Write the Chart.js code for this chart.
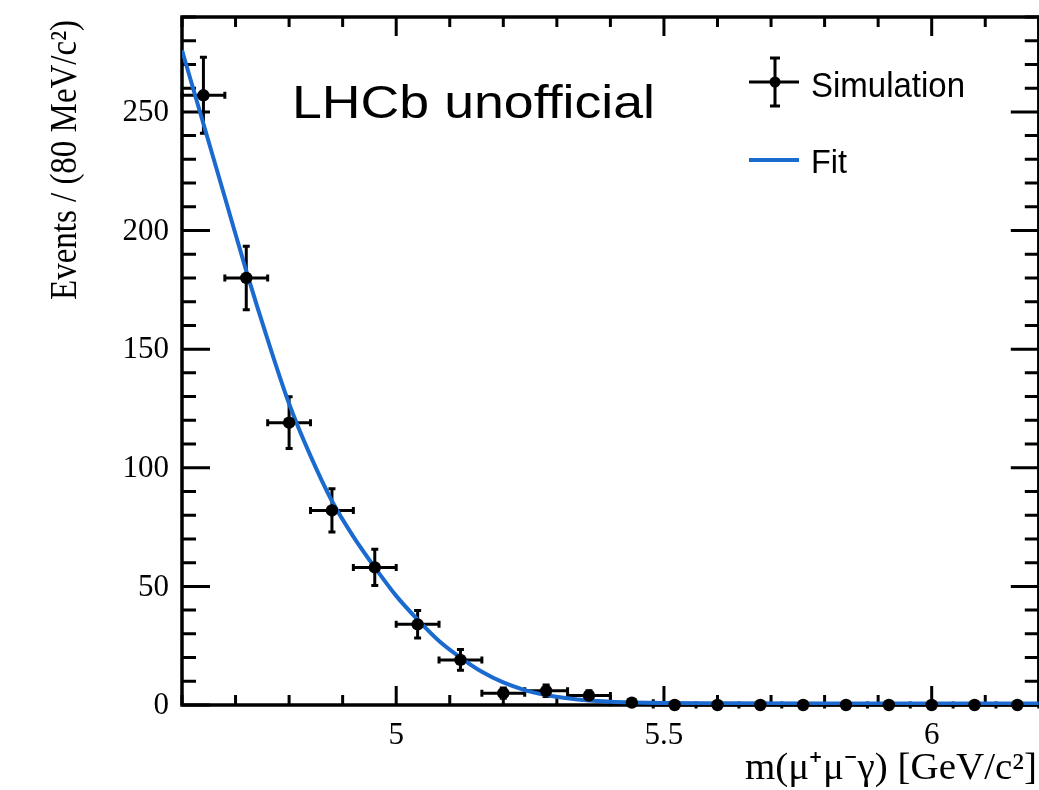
<!DOCTYPE html>
<html>
<head>
<meta charset="utf-8">
<script src="https://cdn.jsdelivr.net/npm/chart.js@4.4.0/dist/chart.umd.min.js"></script>
<style>
  html, body { margin: 0; padding: 0; background: #fff; overflow: hidden; }
  #wrap { position: absolute; left: 0; top: 0; width: 1045px; height: 790px; }
</style>
</head>
<body>
<div id="wrap"><canvas id="massChart" width="1045" height="790"></canvas></div>
<script>
// bins of 80 MeV
const binCenters = [4.64, 4.72, 4.80, 4.88, 4.96, 5.04, 5.12, 5.20, 5.28, 5.36,
                    5.44, 5.52, 5.60, 5.68, 5.76, 5.84, 5.92, 6.00, 6.08, 6.16];
const counts     = [257, 180, 119, 82, 58, 34, 19, 5, 6, 4,
                    1, 0, 0, 0, 0, 0, 0, 0, 0, 0];
const countErr   = [16, 13.4, 10.9, 9.1, 7.6, 5.8, 4.4, 2.2, 2.4, 2.0,
                    1.0, 0, 0, 0, 0, 0, 0, 0, 0, 0];
const binHalfWidth = 0.04;

// fit curve
const fitX = [4.60, 4.64, 4.68, 4.72, 4.76, 4.80, 4.84, 4.88, 4.92, 4.96, 5.00, 5.04, 5.08, 5.12,
              5.16, 5.20, 5.24, 5.28, 5.32, 5.36, 5.40, 5.44, 5.50, 5.60, 5.80, 6.00, 6.20];
const fitY = [276, 245, 214, 183, 154, 127, 105, 86, 71, 58, 46, 36, 27, 20,
              14, 9.5, 6.3, 4.2, 2.8, 1.9, 1.4, 1.1, 0.8, 0.7, 0.6, 0.6, 0.6];

const xMajorTicks = [5, 5.5, 6];
const xTickLabels = ['5', '5.5', '6'];
const yMajorTicks = [0, 50, 100, 150, 200, 250];
const yTickLabels = ['0', '50', '100', '150', '200', '250'];
const xMinorStep = 0.1;
const yMinorStep = 10;

const FIT_BLUE = '#1a6ad0';
const SERIF = '"Liberation Serif", "Times New Roman", serif';
const SANS = '"Liberation Sans", Arial, sans-serif';

// draw text squeezed/stretched to a given width
function drawText(ctx, str, x, y, font, width, align) {
    ctx.save();
    ctx.font = font;
    const w = ctx.measureText(str).width;
    const s = width ? width / w : 1;
    ctx.translate(x, y);
    ctx.scale(s, 1);
    ctx.textAlign = align || 'left';
    ctx.textBaseline = 'alphabetic';
    ctx.fillText(str, 0, 0);
    ctx.restore();
}

function minorValues(min, max, step) {
    const out = [];
    const n = Math.round((max - min) / step);
    for (let i = 0; i <= n; i++) out.push(+(min + i * step).toFixed(6));
    return out;
}

const framePlugin = {
    id: 'frame',
    beforeDatasetsDraw(chart) {
        const { ctx, chartArea: a, scales: { x, y } } = chart;
        ctx.save();
        ctx.strokeStyle = '#000';
        ctx.lineCap = 'butt';

        // ticks, inward on all four sides
        ctx.lineWidth = 3;
        ctx.beginPath();
        minorValues(4.6, 6.2, xMinorStep).forEach(v => {
            const px = x.getPixelForValue(v);
            const len = xMajorTicks.some(m => Math.abs(m - v) < 1e-6) ? 19 : 10;
            ctx.moveTo(px, a.bottom); ctx.lineTo(px, a.bottom - len);
            ctx.moveTo(px, a.top); ctx.lineTo(px, a.top + len);
        });
        minorValues(0, 290, yMinorStep).forEach(v => {
            const py = y.getPixelForValue(v);
            const len = yMajorTicks.includes(v) ? 28 : 14;
            ctx.moveTo(a.left, py); ctx.lineTo(a.left + len, py);
            ctx.moveTo(a.right, py); ctx.lineTo(a.right - len, py);
        });
        ctx.stroke();

        ctx.lineWidth = 3.5;
        ctx.strokeRect(a.left, a.top, a.right - a.left, a.bottom - a.top);

        // error bars
        ctx.lineWidth = 3;
        ctx.beginPath();
        binCenters.forEach((c, i) => {
            const px = x.getPixelForValue(c);
            const py = y.getPixelForValue(counts[i]);
            const x0 = x.getPixelForValue(c - binHalfWidth);
            const x1 = x.getPixelForValue(c + binHalfWidth);
            ctx.moveTo(x0, py); ctx.lineTo(x1, py);
            ctx.moveTo(x0, py - 3.5); ctx.lineTo(x0, py + 3.5);
            ctx.moveTo(x1, py - 3.5); ctx.lineTo(x1, py + 3.5);
            if (countErr[i] > 0) {
                const y0 = y.getPixelForValue(counts[i] + countErr[i]);
                const y1 = y.getPixelForValue(counts[i] - countErr[i]);
                ctx.moveTo(px, y0); ctx.lineTo(px, y1);
                ctx.moveTo(px - 3.5, y0); ctx.lineTo(px + 3.5, y0);
                ctx.moveTo(px - 3.5, y1); ctx.lineTo(px + 3.5, y1);
            }
        });
        ctx.stroke();
        ctx.restore();
    },
    afterDraw(chart) {
        const { ctx, chartArea: a, scales: { x, y } } = chart;
        ctx.save();
        ctx.fillStyle = '#000';

        // tick labels
        ctx.font = '31px ' + SERIF;
        ctx.textBaseline = 'middle';
        ctx.textAlign = 'right';
        yMajorTicks.forEach((v, i) => {
            ctx.fillText(yTickLabels[i], a.left - 13, y.getPixelForValue(v) + 1);
        });
        ctx.textAlign = 'center';
        ctx.textBaseline = 'alphabetic';
        xMajorTicks.forEach((v, i) => {
            ctx.fillText(xTickLabels[i], x.getPixelForValue(v), 744);
        });

        // axis titles
        drawText(ctx, 'm(\u03bc\u207a\u03bc\u207b\u03b3) [GeV/c\u00b2]', 1037, 779, '37px ' + SERIF, 292, 'right');
        ctx.save();
        ctx.translate(76, 20);
        ctx.rotate(-Math.PI / 2);
        drawText(ctx, 'Events / (80 MeV/c\u00b2)', 0, 0, '37px ' + SERIF, 280, 'right');
        ctx.restore();

        // label
        drawText(ctx, 'LHCb unofficial', 292, 118, '47px ' + SANS, 363, 'left');

        // legend
        ctx.strokeStyle = '#000';
        ctx.lineWidth = 3;
        ctx.beginPath();
        ctx.moveTo(749, 82); ctx.lineTo(799, 82);
        ctx.moveTo(775, 58); ctx.lineTo(775, 106);
        ctx.moveTo(770, 58); ctx.lineTo(780, 58);
        ctx.moveTo(770, 106); ctx.lineTo(780, 106);
        ctx.stroke();
        ctx.beginPath();
        ctx.arc(775, 82, 5.5, 0, Math.PI * 2);
        ctx.fill();
        drawText(ctx, 'Simulation', 811, 97, '35px ' + SANS, 154, 'left');

        ctx.strokeStyle = FIT_BLUE;
        ctx.lineWidth = 4;
        ctx.beginPath();
        ctx.moveTo(749, 160); ctx.lineTo(799, 160);
        ctx.stroke();
        drawText(ctx, 'Fit', 811, 173, '34px ' + SANS, 36, 'left');
        ctx.restore();
    }
};

new Chart(document.getElementById('massChart'), {
    data: {
        datasets: [
            {
                type: 'line',
                label: 'Fit',
                data: fitX.map((v, i) => ({ x: v, y: fitY[i] })),
                borderColor: FIT_BLUE,
                borderWidth: 4,
                pointRadius: 0,
                cubicInterpolationMode: 'monotone',
                fill: false,
                order: 2
            },
            {
                type: 'scatter',
                label: 'Simulation',
                data: binCenters.map((v, i) => ({ x: v, y: counts[i] })),
                backgroundColor: '#000',
                borderWidth: 0,
                pointRadius: 6.2,
                clip: false,
                order: 1
            }
        ]
    },
    options: {
        responsive: false,
        animation: false,
        devicePixelRatio: 1,
        layout: { padding: { left: 182, right: 4, top: 17, bottom: 85 } },
        plugins: { legend: { display: false }, tooltip: { enabled: false } },
        scales: {
            x: { type: 'linear', min: 4.6, max: 6.2, display: false },
            y: { type: 'linear', min: 0, max: 290, display: false }
        }
    },
    plugins: [framePlugin]
});
</script>
</body>
</html>
